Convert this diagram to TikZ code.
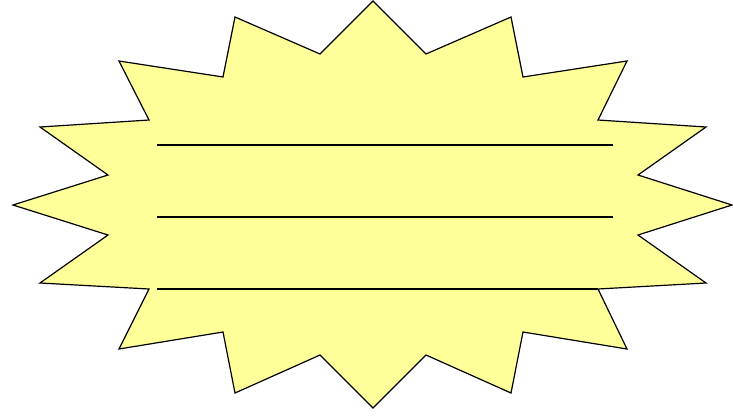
\documentclass[tikz,border=0pt]{standalone}
\definecolor{burstfill}{HTML}{FFFF99}
\begin{document}
\begin{tikzpicture}[x=1pt,y=-1pt]
            \useasboundingbox (0,0) rectangle (733,416);
            % Define the corners of the burst
            \coordinate (P1) at (373,1);
            \coordinate (Q1) at (426,54);
            \coordinate (P2) at (511,17);
            \coordinate (Q2) at (523,77);
            \coordinate (P3) at (627,61);
            \coordinate (Q3) at (598,120);
            \coordinate (P4) at (706,127);
            \coordinate (Q4) at (638,175);
            \coordinate (P5) at (732,205);
            \coordinate (Q5) at (638,235);
            \coordinate (P6) at (706,283);
            \coordinate (Q6) at (598,289);
            \coordinate (P7) at (627,349);
            \coordinate (Q7) at (523,332);
            \coordinate (P8) at (511,393);
            \coordinate (Q8) at (426,355);
            \coordinate (P9) at (373,408);
            \coordinate (Q9) at (320,355);
            \coordinate (P10) at (235,393);
            \coordinate (Q10) at (223,332);
            \coordinate (P11) at (119,349);
            \coordinate (Q11) at (149,289);
            \coordinate (P12) at (40,283);
            \coordinate (Q12) at (108,235);
            \coordinate (P13) at (13,205);
            \coordinate (Q13) at (108,175);
            \coordinate (P14) at (40,127);
            \coordinate (Q14) at (149,120);
            \coordinate (P15) at (119,61);
            \coordinate (Q15) at (223,77);
            \coordinate (P16) at (235,17);
            \coordinate (Q16) at (320,54);

            % Draw the burst
            \draw[line width=1.2pt, line join=miter, fill=burstfill]
                (P1) -- (Q1) -- (P2) -- (Q2) -- (P3) -- (Q3) -- (P4) -- (Q4)
                -- (P5) -- (Q5) -- (P6) -- (Q6) -- (P7) -- (Q7) -- (P8) -- (Q8)
                -- (P9) -- (Q9) -- (P10) -- (Q10) -- (P11) -- (Q11) -- (P12) -- (Q12)
                -- (P13) -- (Q13) -- (P14) -- (Q14) -- (P15) -- (Q15) -- (P16) -- (Q16) -- cycle;

            % Define the ends of the writing lines
            \coordinate (L1) at (157,145);
            \coordinate (R1) at (613,145);
            \coordinate (L2) at (157,217);
            \coordinate (R2) at (613,217);
            \coordinate (L3) at (157,289);

            % Draw the writing lines
            \draw[line width=1.2pt] (L1) -- (R1);
            \draw[line width=1.2pt] (L2) -- (R2);
            \draw[line width=1.2pt] (L3) -- (Q6);

        \end{tikzpicture}
\end{document}
